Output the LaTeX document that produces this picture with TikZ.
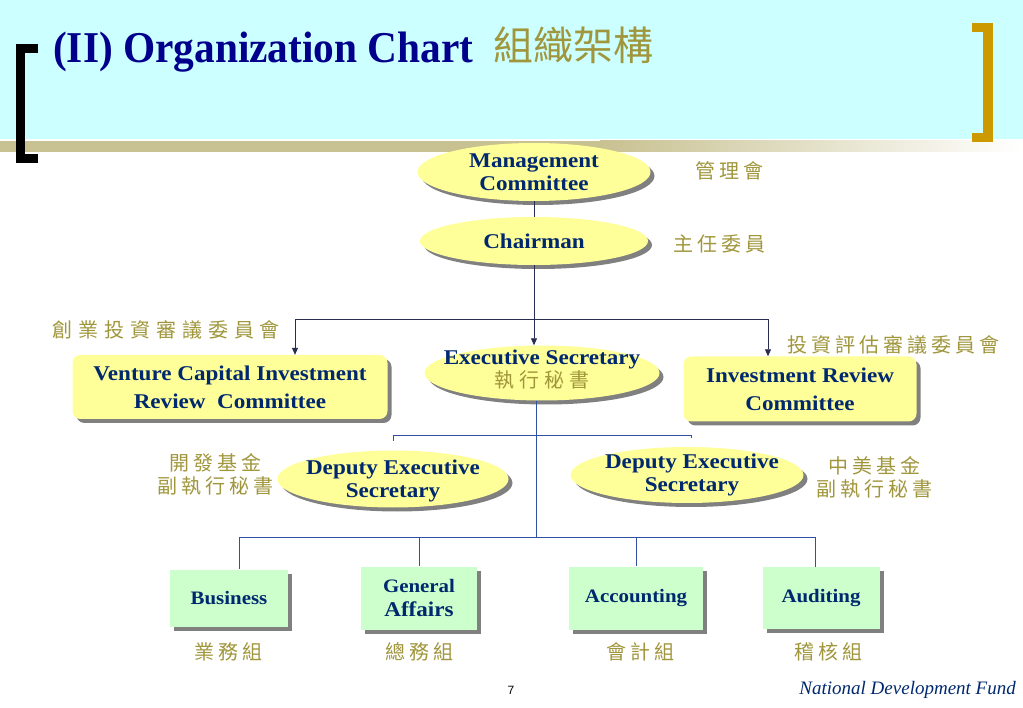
\documentclass[tikz,border=0pt]{standalone}
\usepackage{fontspec}
\setmainfont{Liberation Serif}
\newfontfamily\boxfont[FakeStretch=1.1]{Liberation Serif}
\newfontfamily\titlefont[FakeStretch=0.94]{Liberation Serif}
\newfontfamily\pagefont{Liberation Sans}
\newfontfamily\cjk{Noto Sans CJK TC}
\usetikzlibrary{shapes.geometric,shadows,arrows.meta}

\definecolor{sky}{RGB}{204,255,255}
\definecolor{khaki}{RGB}{200,193,145}
\definecolor{gold}{RGB}{204,153,0}
\definecolor{titleblue}{RGB}{0,0,140}
\definecolor{ink}{RGB}{0,40,110}
\definecolor{cnol}{RGB}{160,150,60}
\definecolor{pale}{RGB}{255,255,153}
\definecolor{mint}{RGB}{204,255,204}
\definecolor{wire}{RGB}{50,80,160}
\definecolor{dark}{RGB}{40,45,80}

\begin{document}
\begin{tikzpicture}[x=1pt,y=-1pt,
   shadowed/.style={drop shadow={shadow xshift=4pt,shadow yshift=-4pt,fill=black!50,opacity=1}},
   oval/.style={ellipse,fill=pale,inner sep=0pt,shadowed},
   panel/.style={rectangle,rounded corners=8pt,fill=pale,inner sep=0pt,shadowed,align=center,text=ink,
      font=\boxfont\bfseries\fontsize{21}{28}\selectfont},
   unit/.style={rectangle,fill=mint,inner sep=0pt,shadowed,align=center,text=ink,
      font=\boxfont\bfseries\fontsize{19}{24}\selectfont},
   lbl/.style={align=center,text=ink,font=\boxfont\bfseries\fontsize{21}{23}\selectfont},
   cn/.style={text=cnol,align=center,font=\cjk\fontsize{20}{23}\selectfont\addfontfeature{LetterSpace=#1}},
   cn/.default=20,
   tie/.style={draw=dark,line width=0.8pt},
   arr/.style={tie,-{Triangle[length=7pt,width=6pt]}},
   wire/.style={draw=wire,line width=0.8pt}]
   \useasboundingbox (0,0) rectangle (1023,708);

   \fill[sky] (0,0) rectangle (1023,139);
   \fill[khaki] (0,141) rectangle (600,152);
   \shade[left color=khaki,right color=white] (600,141) rectangle (1023,152);

   \fill[black] (16,44) rectangle (25,163);
   \fill[black] (16,44) rectangle (38,53);
   \fill[black] (16,154) rectangle (38,163);
   \fill[gold] (983,23) rectangle (993,142);
   \fill[gold] (972,23) rectangle (993,32);
   \fill[gold] (972,133) rectangle (993,142);

   \node[anchor=base west,inner sep=0pt,text=titleblue,font=\titlefont\bfseries\fontsize{44}{48}\selectfont] (title) at (53,63) {(II) Organization Chart};
   \node[anchor=base west,inner sep=0pt,text=cnol,font=\cjk\fontsize{40}{42}\selectfont] (titlecn) at (493,61) {組織架構};

   \node[oval,minimum width=233pt,minimum height=58pt,label={[lbl]center:Management\\Committee}] (mc) at (534,172) {};
   \node[oval,minimum width=228pt,minimum height=48pt,label={[lbl]center:Chairman}] (ch) at (534,241) {};
   \node[oval,minimum width=235pt,minimum height=55pt,
      label={[lbl,yshift=3pt]center:Executive Secretary\\{\cjk\mdseries\fontsize{20}{23}\selectfont\addfontfeature{LetterSpace=25}\color{cnol}執行秘書}}] (es) at (542,373) {};
   \node[panel,minimum width=315pt,minimum height=64pt] (vc) at (230,387) {Venture Capital Investment\\Review\ \ Committee};
   \node[panel,minimum width=233pt,minimum height=65pt] (ir) at (800,389) {Investment Review\\Committee};
   \node[oval,minimum width=231pt,minimum height=57pt,label={[lbl,yshift=-2pt]center:Deputy Executive\\Secretary}] (dl) at (393,479) {};
   \node[oval,minimum width=233pt,minimum height=56pt,label={[lbl,xshift=5pt]center:Deputy Executive\\Secretary}] (dr) at (687,475) {};

   \node[unit,minimum width=118pt,minimum height=57pt] (bu) at (229,598) {Business};
   \node[unit,minimum width=116pt,minimum height=63pt] (ga) at (419,598) {General\\{\fontsize{21}{24}\selectfont Affairs}};
   \node[unit,minimum width=134pt,minimum height=63pt] (ac) at (636,598) {Accounting};
   \node[unit,minimum width=117pt,minimum height=62pt] (au) at (821,598) {Auditing};

   \node[cn] (mccn) at (729,171) {管理會};
   \node[cn] (chcn) at (719,244) {主任委員};
   \node[cn=30] (vccn) at (166,330) {創業投資審議委員會};
   \node[cn] (ircn) at (893,345) {投資評估審議委員會};
   \node[cn] (dlcn) at (215,474) {開發基金\\副執行秘書};
   \node[cn] (drcn) at (874,477) {中美基金\\副執行秘書};
   \node[cn] (bucn) at (228,652) {業務組};
   \node[cn] (gacn) at (419,652) {總務組};
   \node[cn] (accn) at (640,652) {會計組};
   \node[cn] (aucn) at (828,652) {稽核組};

   \node[font=\pagefont\fontsize{12}{14}\selectfont] (pg) at (511,690) {7};
   \node[anchor=east,inner sep=0pt,text=ink,font=\itshape\fontsize{19}{21}\selectfont] (ndf) at (1016,690) {National Development Fund};

   \coordinate (j1) at (534,319);
   \coordinate (j2) at (536,435);
   \coordinate (j3) at (536,537);

   \draw[tie] (mc) -- (ch);
   \draw[arr] (ch) -- (ch |- es.north);
   \draw[arr] (j1) -| ([xshift=65pt]vc.north);
   \draw[arr] (j1) -| ([xshift=-32pt]ir.north);
   \draw[wire] (j3 |- es.south) -- (j3);
   \draw[wire] (j2) -| ([yshift=9pt]dl.north);
   \draw[wire] (j2) -| ([xshift=4pt,yshift=9pt]dr.north);
   \draw[wire] (j3) -| ([xshift=10pt]bu.north);
   \draw[wire] (j3) -| (ga.north);
   \draw[wire] (j3) -| (ac.north);
   \draw[wire] (j3) -| ([xshift=-6pt]au.north);

\end{tikzpicture}
\end{document}
